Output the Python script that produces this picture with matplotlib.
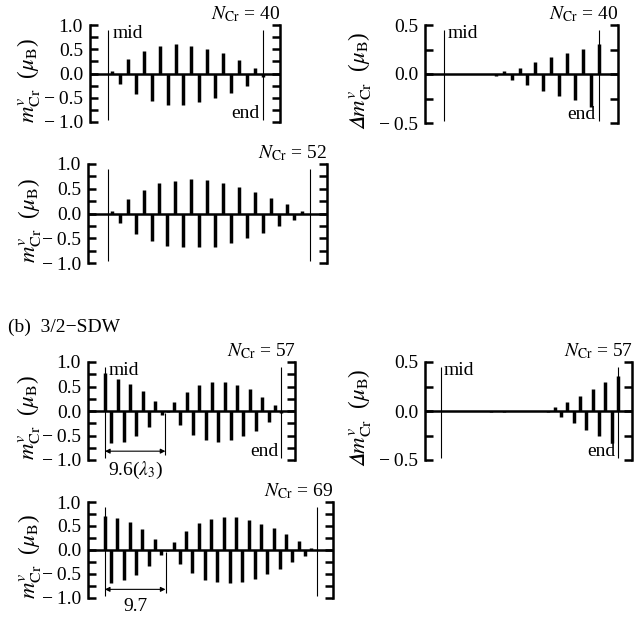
import numpy as np
import matplotlib
matplotlib.use("Agg")
import matplotlib.pyplot as plt

plt.rcParams['font.family'] = ['Liberation Serif', 'DejaVu Serif']
plt.rcParams['mathtext.fontset'] = 'stix'

# layer moments from the middle layer outwards (muB)
n_a1 = 40
m_a1 = [0.05, -0.22, 0.30, -0.43, 0.47, -0.57, 0.57, -0.65, 0.61, -0.65,
        0.57, -0.58, 0.50, -0.51, 0.42, -0.40, 0.28, -0.25, 0.11, -0.08]
dm_a1 = [0.0, 0.0, 0.0, 0.0, 0.0, 0.005, -0.02, 0.03, -0.065, 0.06,
         -0.115, 0.12, -0.17, 0.17, -0.22, 0.215, -0.27, 0.26, -0.335, 0.31]

n_a2 = 52
m_a2 = [0.06, -0.20, 0.30, -0.41, 0.48, -0.56, 0.61, -0.65, 0.65, -0.68,
        0.69, -0.68, 0.67, -0.67, 0.62, -0.60, 0.54, -0.50, 0.43, -0.40,
        0.32, -0.26, 0.19, -0.14, 0.06, -0.02]

n_b1 = 57
m_b1 = [0.78, -0.66, 0.65, -0.63, 0.56, -0.51, 0.41, -0.33, 0.20, -0.08,
        -0.03, 0.18, -0.29, 0.39, -0.48, 0.53, -0.59, 0.60, -0.63, 0.60,
        -0.59, 0.54, -0.51, 0.44, -0.40, 0.29, -0.22, 0.12, -0.04]
dm_b1 = [0.0, 0.0, 0.0, 0.0, 0.0, 0.0, 0.0, 0.005, -0.006, 0.005,
         -0.006, 0.005, -0.004, 0.0, 0.0, 0.0, 0.005, -0.015, 0.045, -0.065,
         0.095, -0.12, 0.155, -0.19, 0.22, -0.26, 0.30, -0.33, 0.36]

n_b2 = 69
m_b2 = [0.70, -0.68, 0.67, -0.63, 0.59, -0.52, 0.43, -0.33, 0.23, -0.10,
        -0.03, 0.17, -0.29, 0.40, -0.48, 0.57, -0.62, 0.65, -0.66, 0.69,
        -0.68, 0.68, -0.66, 0.63, -0.60, 0.55, -0.50, 0.45, -0.39, 0.33,
        -0.26, 0.19, -0.12, 0.05, -0.01]

period_b1 = 9.6
period_b2 = 9.7

W, H = 636, 618
MINUS = '\u2212\u2009'
fig = plt.figure(figsize=(W / 100, H / 100), dpi=100)


def make_axes(x0, x1, ytop, ybot):
    return fig.add_axes([x0 / W, 1 - ybot / H, (x1 - x0) / W, (ybot - ytop) / H])


def fmt(v):
    s = '%.1f' % abs(v)
    return MINUS + s if v < 0 else s


def panel(ax, ncr, vals, xlim, ymax, delta=False, label_x=-0.25):
    end = (ncr - 1) / 2
    x = end - np.arange(len(vals))[::-1]
    ax.vlines(x, 0, vals, color='black', lw=2.5)
    ax.axhline(0, color='black', lw=1.8)
    ax.vlines([0, end], -0.95 * ymax, 0.9 * ymax, color='black', lw=0.8)
    ax.set_xlim(*xlim)
    ax.set_ylim(-ymax, ymax)
    ax.set_xticks([])
    for s in ['top', 'bottom']:
        ax.spines[s].set_visible(False)
    for s in ['left', 'right']:
        ax.spines[s].set_linewidth(1.8)
    if delta:
        ticks = [-0.5, 0.0, 0.5]
        ax.set_yticks([-0.25, 0.25], minor=True)
        ax.set_ylabel('$\U0001D6E5m^{v}_{\\rm Cr}$  ($\\mu_{\\rm B}$)', fontsize=16.5)
    else:
        ticks = [-1.0, -0.5, 0.0, 0.5, 1.0]
        ax.set_yticks([-0.75, -0.25, 0.25, 0.75], minor=True)
        ax.set_ylabel(r'$m^{v}_{\rm Cr}$  ($\mu_{\rm B}$)', fontsize=16.5)
    ax.set_yticks(ticks, [fmt(t) for t in ticks])
    ax.yaxis.set_label_coords(label_x, 0.43)
    ax.tick_params(axis='y', which='both', direction='in', right=True,
                   width=1.8, length=6, labelsize=14, pad=5)
    ax.text(1.0, 1.01, r'$N_{\rm Cr}$ = %d' % ncr, transform=ax.transAxes,
            ha='right', va='bottom', fontsize=14)


def mid_end(ax, ncr, ymax):
    end = (ncr - 1) / 2
    ax.text(0.5, 1.0 * ymax, 'mid', ha='left', va='top', fontsize=14)
    ax.text(end - 0.4, -1.01 * ymax, 'end', ha='right', va='bottom', fontsize=14)


def period(ax, length, text):
    ax.annotate('', xy=(0, -0.82), xytext=(length, -0.82),
                arrowprops=dict(arrowstyle='<|-|>', lw=0.8, color='black',
                                mutation_scale=7, shrinkA=0, shrinkB=0))
    ax.vlines([length], -0.9, -0.04, color='black', lw=0.8)
    ax.text(length / 2, -1.0, text, ha='center', va='top', fontsize=14,
            clip_on=False)


ax1 = make_axes(90, 280, 25, 122)
panel(ax1, n_a1, m_a1, (-2.3, 21.7), 1.0, label_x=-0.25)
mid_end(ax1, n_a1, 1.0)

ax2 = make_axes(425, 618, 25, 123)
panel(ax2, n_a1, dm_a1, (-2.4, 21.9), 0.5, delta=True, label_x=-0.27)
mid_end(ax2, n_a1, 0.5)

ax3 = make_axes(88, 327, 164, 263)
panel(ax3, n_a2, m_a2, (-2.5, 27.6), 1.0, label_x=-0.19)

fig.text(8 / W, 1 - 327 / H, '(b)  3/2\u2212SDW', ha='left', va='center',
         fontsize=14)

ax4 = make_axes(88, 295, 362, 460)
panel(ax4, n_b1, m_b1, (-2.7, 30.2), 1.0, label_x=-0.22)
mid_end(ax4, n_b1, 1.0)
period(ax4, period_b1, r'9.6($\lambda_3$)')

ax5 = make_axes(425, 632, 362, 460)
panel(ax5, n_b1, dm_b1, (-2.5, 30.2), 0.5, delta=True, label_x=-0.25)
mid_end(ax5, n_b1, 0.5)

ax6 = make_axes(88, 333, 502, 598)
panel(ax6, n_b2, m_b2, (-2.7, 36.5), 1.0, label_x=-0.185)
period(ax6, period_b2, '9.7')

fig.savefig('out.png', dpi=100)
